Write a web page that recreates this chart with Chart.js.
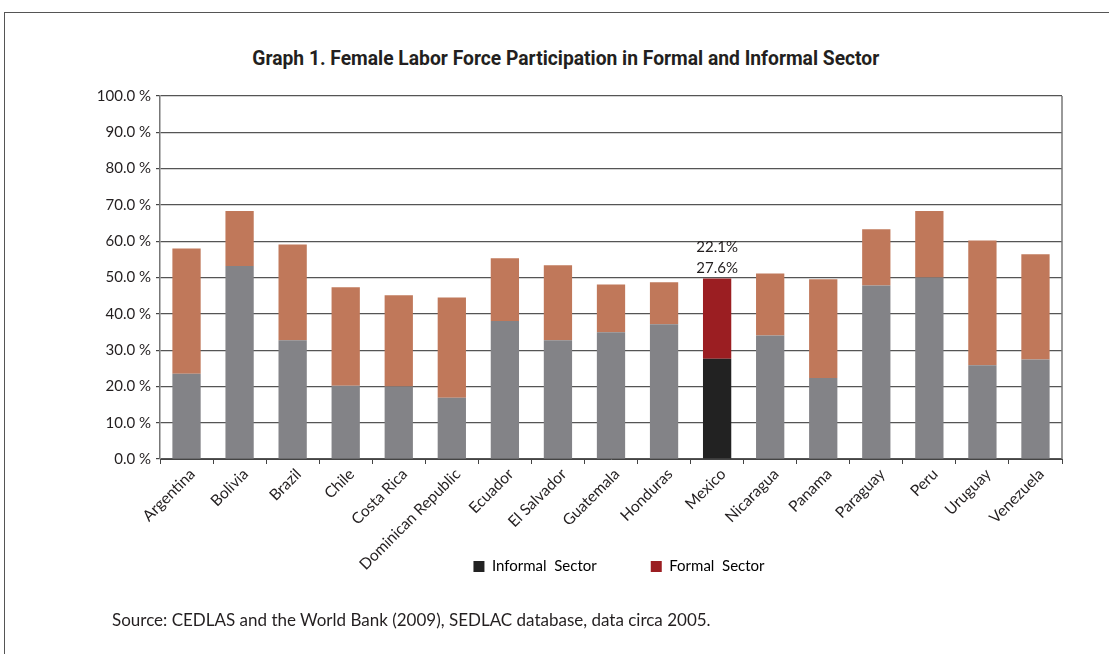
<!DOCTYPE html>
<html>
<head>
<meta charset="utf-8">
<script src="https://cdn.jsdelivr.net/npm/chart.js@4.4.0/dist/chart.umd.min.js"></script>
<style>
    body { margin: 0; background: #fff; width: 1109px; height: 654px; overflow: hidden; position: relative; color: #231f20; }
    #frame { position: absolute; left: 4px; top: 12px; width: 1200px; height: 700px; border: 1px solid #555; }
    #title { position: absolute; top: 46px; left: 0; width: 1131px; text-align: center; }
    #title span { display: inline-block; font: bold 21px Roboto, sans-serif; transform-origin: center; white-space: nowrap; }
    #source { position: absolute; left: 112px; top: 609px; font: 17px Lato, sans-serif; white-space: nowrap; }
    #wrap { position: absolute; left: 0; top: 0; width: 1109px; height: 668px; }
</style>
</head>
<body>
<div id="frame"></div>
<div id="title"><span>Graph 1. Female Labor Force Participation in Formal and Informal Sector</span></div>
<div id="wrap"><canvas id="chart"></canvas></div>
<div id="source">Source: CEDLAS and the World Bank (2009), SEDLAC database, data circa 2005.</div>

<script>
    // DADOS
    const countries = ["Argentina", "Bolivia", "Brazil", "Chile", "Costa Rica", "Dominican Republic", "Ecuador",
        "El Salvador", "Guatemala", "Honduras", "Mexico", "Nicaragua", "Panama", "Paraguay", "Peru", "Uruguay", "Venezuela"];
    const informalSector = [23.5, 53.2, 32.7, 20.2, 20.0, 16.9, 38.0, 32.7, 34.9, 37.1, 27.6, 34.0, 22.3, 47.8, 50.0, 25.8, 27.4];
    const formalSector = [34.5, 15.1, 26.4, 27.1, 25.1, 27.6, 17.3, 20.7, 13.2, 11.6, 22.1, 17.1, 27.2, 15.5, 18.3, 34.4, 29.0];
    const yTicks = [0, 10, 20, 30, 40, 50, 60, 70, 80, 90, 100];
    const highlight = "Mexico";

    const GRAY = "#838387", ORANGE = "#c0785a", BLACK = "#222222", RED = "#9b1e22";
    const informalColors = countries.map(c => c === highlight ? BLACK : GRAY);
    const formalColors = countries.map(c => c === highlight ? RED : ORANGE);

    // título condensado: ajusta a largura ao original
    const titleSpan = document.querySelector("#title span");
    titleSpan.style.transform = `scaleX(${627 / titleSpan.getBoundingClientRect().width})`;

    const highlightLabels = {
        id: "highlightLabels",
        afterDatasetsDraw(chart) {
            const i = countries.indexOf(highlight);
            const bar = chart.getDatasetMeta(1).data[i];
            const ctx = chart.ctx;
            ctx.save();
            ctx.font = "15px Lato, sans-serif";
            ctx.fillStyle = "#231f20";
            ctx.textAlign = "center";
            ctx.textBaseline = "middle";
            ctx.fillText(formalSector[i].toFixed(1) + "%", bar.x, bar.y - 31);
            ctx.fillText(informalSector[i].toFixed(1) + "%", bar.x, bar.y - 10);
            ctx.restore();
        }
    };

    // legenda fica sob os rótulos do eixo x, como no original
    const moveLegend = {
        id: "moveLegend",
        afterLayout(chart) {
            const lg = chart.legend;
            const dy = 505 - lg.top, dx = 88;
            lg.top += dy; lg.bottom += dy;
            lg.left += dx; lg.right += dx;
        }
    };

    const rightBorder = {
        id: "rightBorder",
        afterDraw(chart) {
            const { ctx, chartArea: a } = chart;
            ctx.save();
            ctx.strokeStyle = "#777";
            ctx.lineWidth = 1.5;
            ctx.beginPath();
            ctx.moveTo(a.right, a.top);
            ctx.lineTo(a.right, a.bottom);
            ctx.stroke();
            ctx.restore();
        }
    };

    const tickFont = { family: "Lato, sans-serif", size: 15 };

    new Chart(document.getElementById("chart"), {
        type: "bar",
        data: {
            labels: countries,
            datasets: [
                { label: "Informal  Sector", data: informalSector, backgroundColor: informalColors, barPercentage: 0.533, categoryPercentage: 1 },
                { label: "Formal  Sector", data: formalSector, backgroundColor: formalColors, barPercentage: 0.533, categoryPercentage: 1 }
            ]
        },
        options: {
            responsive: true,
            maintainAspectRatio: false,
            animation: false,
            layout: { padding: { top: 96, right: 47, left: 0, bottom: 0 } },
            plugins: {
                tooltip: { enabled: false },
                legend: {
                    position: "bottom",
                    labels: {
                        boxWidth: 11, boxHeight: 11, padding: 54,
                        font: { family: "Lato, sans-serif", size: 15 }, color: "#231f20",
                        generateLabels: () => [
                            { text: "Informal  Sector", fillStyle: BLACK, strokeStyle: BLACK, lineWidth: 0, datasetIndex: 0 },
                            { text: "Formal  Sector", fillStyle: RED, strokeStyle: RED, lineWidth: 0, datasetIndex: 1 }
                        ]
                    }
                }
            },
            scales: {
                x: {
                    stacked: true,
                    offset: true,
                    afterFit: s => { s.height = 130; },
                    grid: { offset: true, drawOnChartArea: false, color: "#444", tickLength: 5, tickWidth: 1 },
                    border: { color: "#444", width: 1 },
                    ticks: { minRotation: 45, maxRotation: 45, autoSkip: false, font: { family: "Lato, sans-serif", size: 15.5 }, color: "#231f20", padding: 1, labelOffset: 6 }
                },
                y: {
                    stacked: true,
                    min: 0, max: 100,
                    afterFit: s => { s.width = 160; },
                    afterBuildTicks: s => { s.ticks = yTicks.map(v => ({ value: v })); },
                    grid: { color: "#555", lineWidth: 1.2, tickLength: 4, tickColor: "#444" },
                    border: { color: "#777", width: 1.5 },
                    ticks: { font: tickFont, color: "#231f20", padding: 5, callback: v => v.toFixed(1) + " %" }
                }
            }
        },
        plugins: [highlightLabels, moveLegend, rightBorder]
    });
</script>
</body>
</html>
